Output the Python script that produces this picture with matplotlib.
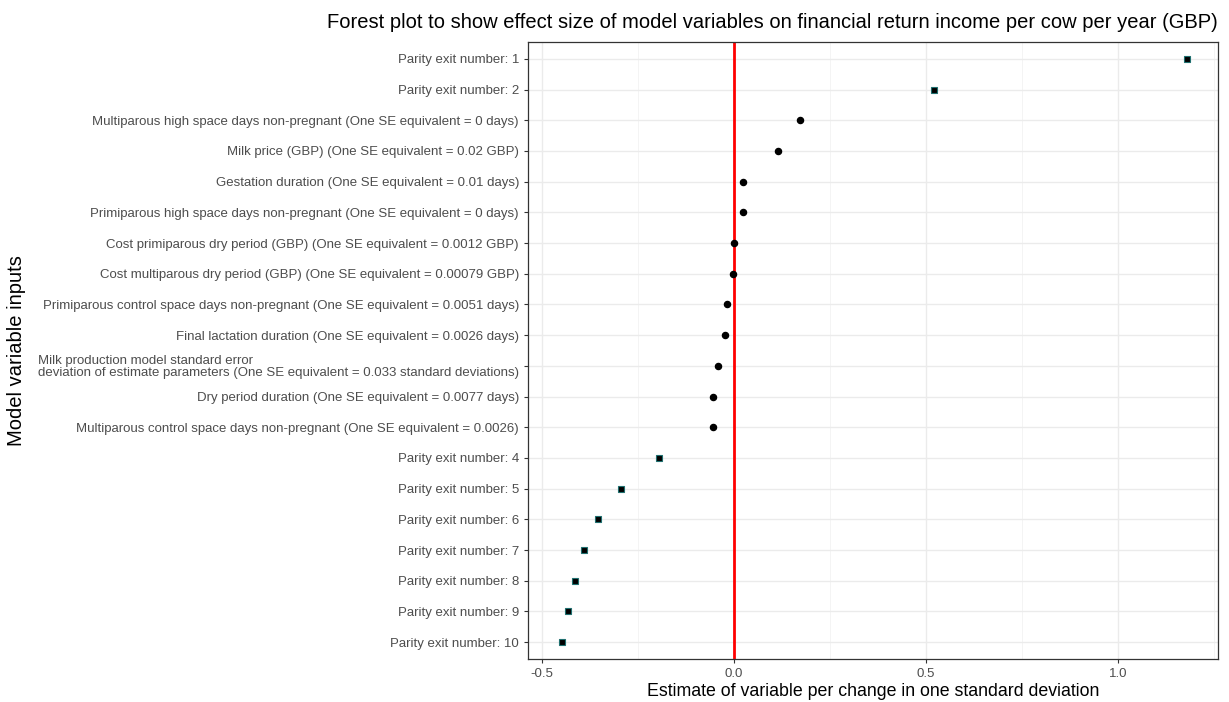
import matplotlib.pyplot as plt
from matplotlib.ticker import MultipleLocator

plt.rcParams['font.family'] = ['Liberation Sans', 'DejaVu Sans']

# variables from top to bottom of the plot
labels = [
    "Parity exit number: 1",
    "Parity exit number: 2",
    "Multiparous high space days non-pregnant (One SE equivalent = 0 days)",
    "Milk price (GBP) (One SE equivalent = 0.02 GBP)",
    "Gestation duration (One SE equivalent = 0.01 days)",
    "Primiparous high space days non-pregnant (One SE equivalent = 0 days)",
    "Cost primiparous dry period (GBP) (One SE equivalent = 0.0012 GBP)",
    "Cost multiparous dry period (GBP) (One SE equivalent = 0.00079 GBP)",
    "Primiparous control space days non-pregnant (One SE equivalent = 0.0051 days)",
    "Final lactation duration (One SE equivalent = 0.0026 days)",
    "Milk production model standard error\ndeviation of estimate parameters (One SE equivalent = 0.033 standard deviations)",
    "Dry period duration (One SE equivalent = 0.0077 days)",
    "Multiparous control space days non-pregnant (One SE equivalent = 0.0026)",
    "Parity exit number: 4",
    "Parity exit number: 5",
    "Parity exit number: 6",
    "Parity exit number: 7",
    "Parity exit number: 8",
    "Parity exit number: 9",
    "Parity exit number: 10",
]
estimates = [1.180, 0.521, 0.173, 0.116, 0.024, 0.023, 0.0005, -0.001, -0.017,
             -0.023, -0.040, -0.053, -0.053, -0.196, -0.295, -0.354, -0.389,
             -0.414, -0.432, -0.447]
is_parity = [lab.startswith("Parity exit") for lab in labels]

n = len(labels)
ypos = [n - i for i in range(n)]

fig = plt.figure(figsize=(12.29, 7.02), dpi=100)
ax = fig.add_axes([528 / 1229, 1 - 659 / 702, (1218 - 528) / 1229, (659 - 42) / 702])

# grid like theme_bw
ax.set_axisbelow(True)
ax.xaxis.set_minor_locator(MultipleLocator(0.25))
ax.grid(True, which='major', color='#EBEBEB', linewidth=1.0)
ax.grid(True, which='minor', axis='x', color='#F2F2F2', linewidth=0.6)

ax.axvline(0, color='#FF0000', linewidth=2.0, zorder=2)

for y, est, par in zip(ypos, estimates, is_parity):
    if par:
        ax.plot(est, y, marker='s', markersize=5, color='black',
                markeredgecolor='#1F6F6F', markeredgewidth=0.8, zorder=3)
    else:
        ax.plot(est, y, marker='o', markersize=4.4, color='black', zorder=3)

ax.set_xlim(-0.536, 1.261)
ax.set_ylim(0.45, n + 0.55)
ax.set_xticks([-0.5, 0.0, 0.5, 1.0])
ax.set_xticklabels(['-0.5', '0.0', '0.5', '1.0'])
ax.set_yticks(ypos)
ax.set_yticklabels(labels, multialignment='left', linespacing=1.0)

ax.tick_params(axis='both', which='major', labelsize=9.5, labelcolor='#4D4D4D',
               color='#333333', length=3, width=0.8)
ax.tick_params(axis='x', which='minor', length=0)
for sp in ax.spines.values():
    sp.set_color('#333333')
    sp.set_linewidth(0.9)

ax.set_xlabel("Estimate of variable per change in one standard deviation", fontsize=12.8, labelpad=2)
ax.set_ylabel("Model variable inputs", fontsize=14.5)
ax.yaxis.set_label_coords((26 - 528) / 690, 0.5)

fig.text(1218 / 1229, 1 - 23 / 702,
         "Forest plot to show effect size of model variables on financial return income per cow per year (GBP)",
         ha='right', va='center', fontsize=14.5)

plt.savefig('out.png', dpi=100)
